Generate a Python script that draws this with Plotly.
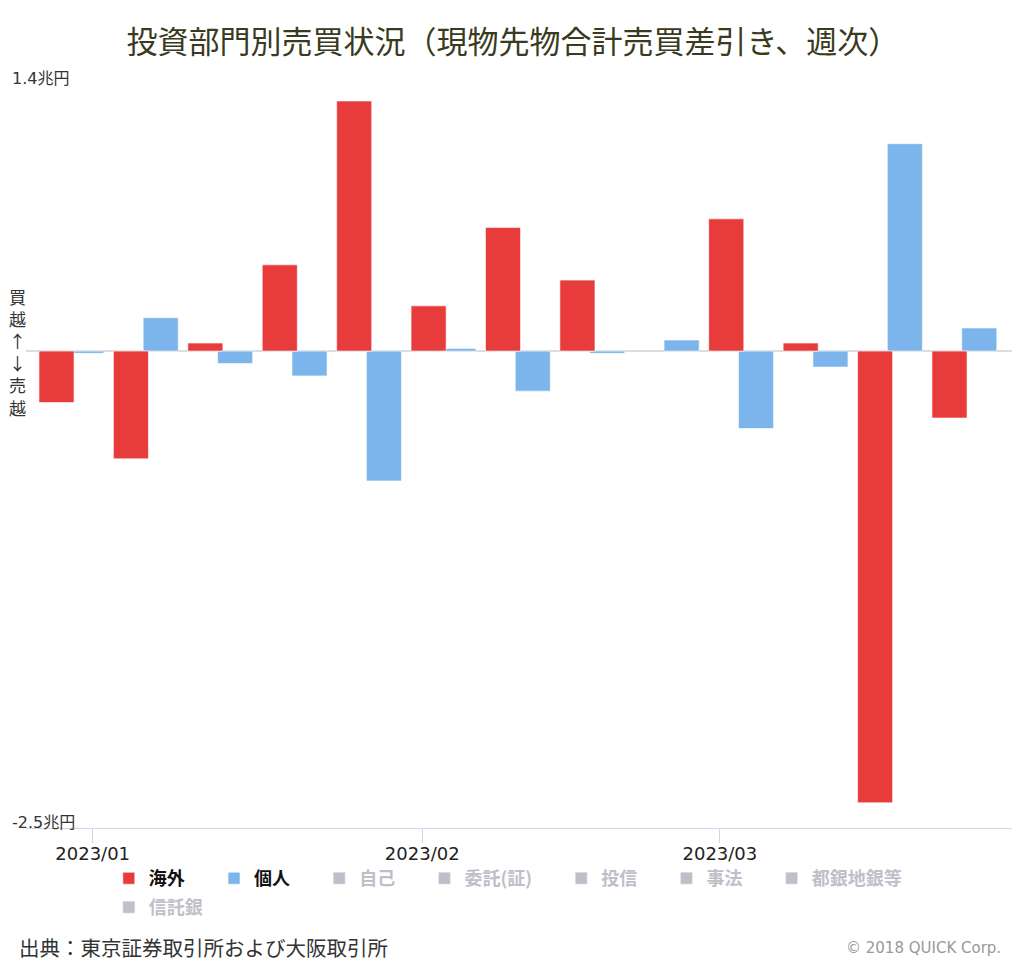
import plotly.graph_objects as go

# weekly net buy/sell (現物先物合計, 兆円)
weeks = ["2022-12-30", "2023-01-06", "2023-01-13", "2023-01-20", "2023-01-27",
         "2023-02-03", "2023-02-10", "2023-02-17", "2023-02-24", "2023-03-03",
         "2023-03-10", "2023-03-17", "2023-03-24"]
foreign = [-0.27, -0.565, 0.042, 0.452, 1.311, 0.237, 0.648, 0.372, None, 0.693,
           0.042, -2.368, -0.351]
individual = [-0.012, 0.175, -0.065, -0.13, -0.681, 0.014, -0.21, -0.012, 0.058,
              -0.406, -0.084, 1.087, 0.121]
hidden_names = ["自己", "委託(証)", "投信", "事法", "都銀地銀等", "信託銀"]
ytick_vals = [1.4, -2.5]
ytick_text = ["1.4兆円", "-2.5兆円"]

RED, BLUE = "#e83c3c", "#7cb5ec"
DAY = 86400000
FONT = "Noto Sans CJK JP"
LATIN = "DejaVu Sans, Noto Sans CJK JP"
GAP = "\u00a0" * 6
EDGE = dict(color="rgba(255,255,255,0.6)", width=1)

fig = go.Figure()
# blue first so red sits on top where the bars overlap
fig.add_trace(go.Bar(x=weeks, y=individual, name=f"<b>個人</b>{GAP}", legendrank=2,
                     marker=dict(color=BLUE, line=EDGE),
                     width=3.3 * DAY, offset=-0.25 * DAY))
fig.add_trace(go.Bar(x=weeks, y=foreign, name=f"<b>海外</b>{GAP}", legendrank=1,
                     marker=dict(color=RED, line=EDGE),
                     width=3.3 * DAY, offset=-3.05 * DAY))
for i, n in enumerate(hidden_names):
    # last entry wraps to a second legend row
    fig.add_trace(go.Bar(x=[None], y=[None], visible="legendonly", legendrank=3 + i,
                         legend="legend2" if i == len(hidden_names) - 1 else "legend",
                         name=f"<span style='color:#818195'><b>{n}</b></span>{GAP}",
                         marker=dict(color="#818195")))

legend_style = dict(orientation="h", x=0.084, xanchor="left", yanchor="top",
                    font=dict(size=18, color="#111111"), bgcolor="rgba(0,0,0,0)")
# page body has an 8px margin, so the figure is 8px smaller each way
fig.update_layout(
    width=1016, height=956, barmode="overlay",
    paper_bgcolor="white", plot_bgcolor="white",
    font=dict(family=FONT, color="#333333"),
    margin=dict(l=18, r=12, t=76, b=136, autoexpand=False),
    title=dict(text="投資部門別売買状況（現物先物合計売買差引き、週次）", x=0.497, xanchor="center",
               y=1 - 34 / 956, yanchor="middle", font=dict(size=31, color="#3a3a20")),
    legend=dict(legend_style, y=-0.043),
    legend2=dict(legend_style, y=-0.082),
    showlegend=True,
)
fig.update_xaxes(type="date", range=["2022-12-25 17:30", "2023-03-28 11:30"],
                 dtick="M1", tick0="2023-01-01", tickformat="%Y/%m",
                 showgrid=False, showline=True, linecolor="#ccd6eb", linewidth=1,
                 ticks="outside", ticklen=14, tickcolor="#ccd6eb", ticklabelstandoff=-5,
                 tickfont=dict(family=LATIN, size=18, color="#222222"), fixedrange=True)
fig.update_yaxes(range=[-2.5, 1.4], tickvals=ytick_vals, showticklabels=False,
                 showgrid=True, gridcolor="#e6e6e6", zeroline=True,
                 zerolinecolor="#dddddd", zerolinewidth=2, fixedrange=True)

for v, t in zip(ytick_vals, ytick_text):
    fig.add_annotation(x=-0.0162, xref="paper", y=v, yref="y", text=t, showarrow=False,
                       xanchor="left", yanchor="middle", yshift=6,
                       font=dict(family=LATIN, size=16, color="#333333"))
fig.add_annotation(x=-0.0091, xref="paper", y=0, yref="y", yshift=-1,
                   text="買<br>越<br>↑<br>↓<br>売<br>越", showarrow=False,
                   xanchor="center", yanchor="middle", font=dict(size=17, color="#333333"))
fig.add_annotation(x=-0.0091, xref="paper", y=(828 - 947) / 744, yref="paper",
                   text="出典：東京証券取引所および大阪取引所", showarrow=False,
                   xanchor="left", yanchor="middle", font=dict(size=20.5, color="#333333"))
fig.add_annotation(x=0.9909, xref="paper", y=(828 - 948) / 744, yref="paper",
                   text="© 2018 QUICK Corp.", showarrow=False,
                   xanchor="right", yanchor="middle",
                   font=dict(family=LATIN, size=15, color="#999999"))

fig.write_html("out.html")
